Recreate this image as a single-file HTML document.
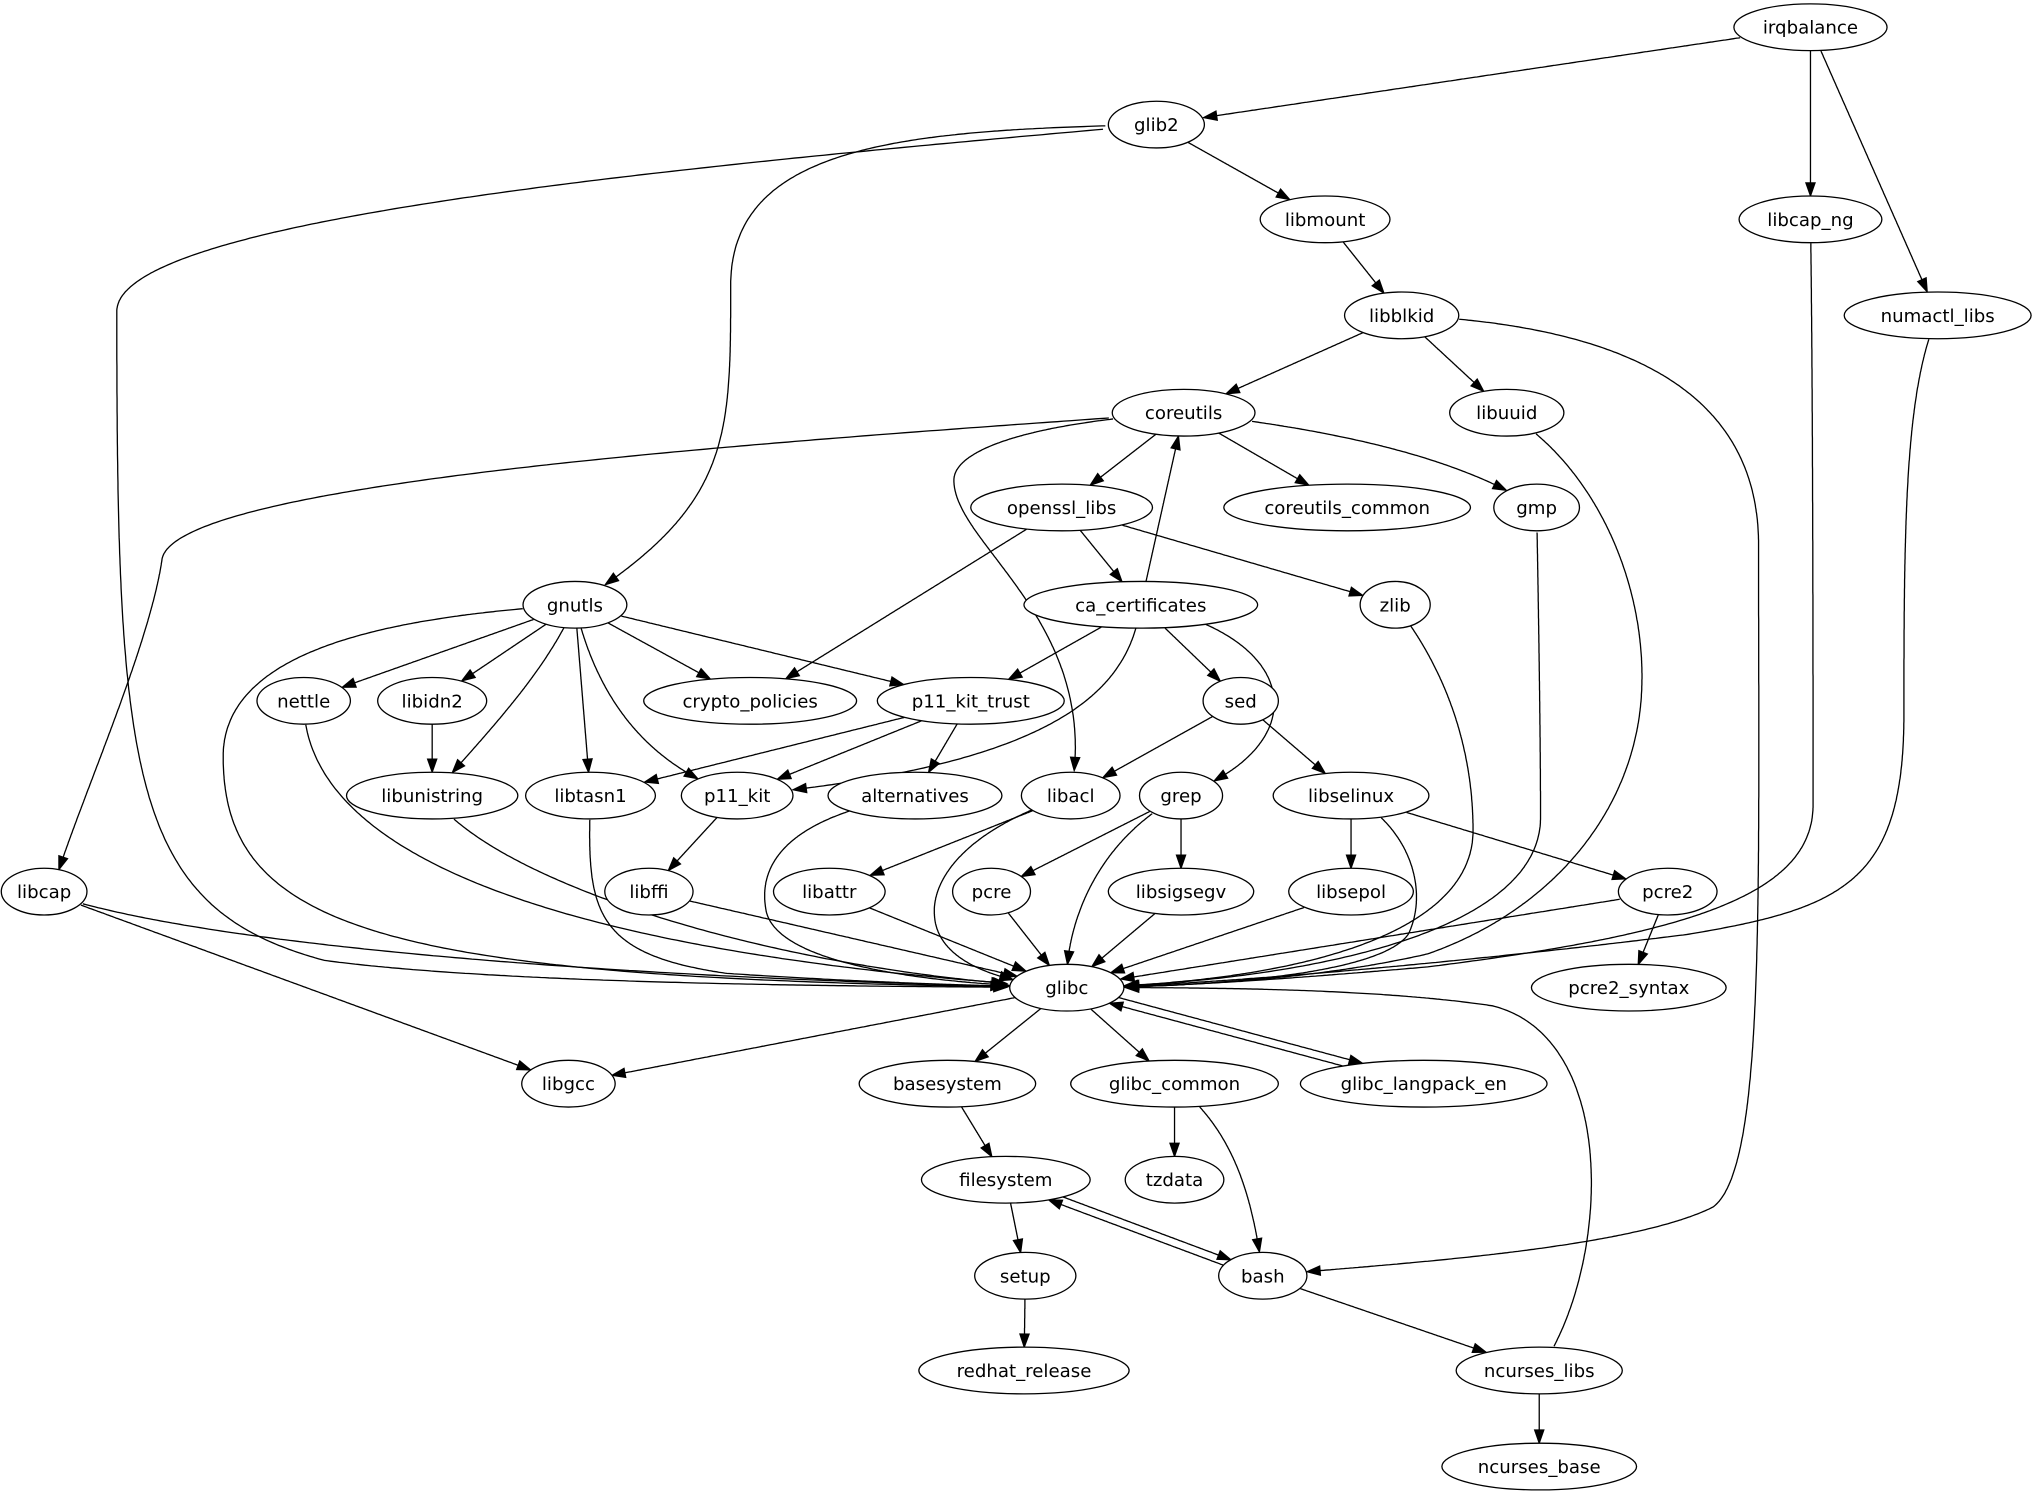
<!DOCTYPE html>
<html><head><meta charset="utf-8"><style>
html,body{margin:0;padding:0;background:#fff;}
svg{display:block;}
text{font-family:"DejaVu Sans","Liberation Sans",sans-serif;font-size:14px;}
</style></head><body>
<svg id="g" width="2035" height="1499" viewBox="0 0 1568 1155" xmlns="http://www.w3.org/2000/svg"></svg>
<script>
const N={
irqbalance:[1395,21,59],glib2:[891,96,37],libmount:[1021,169,50],libcap_ng:[1395,169,55],
libblkid:[1080,243,44],numactl_libs:[1493,243,72],coreutils:[912,318,55],libuuid:[1161,318,44],
openssl_libs:[818,391,70],coreutils_common:[1038,391,95],gmp:[1184,391,33],gnutls:[443,466,40],
ca_certificates:[879,466,90],zlib:[1075,466,27],nettle:[234,540,36],libidn2:[333,540,42],
crypto_policies:[578,540,82],p11_kit_trust:[748,540,72],sed:[956,540,29],libunistring:[333,613,66],
libtasn1:[455,613,50],p11_kit:[568,613,43],alternatives:[705,613,67],libacl:[825,613,38],
grep:[910,613,32],libselinux:[1041,613,60],libcap:[34,687,33],libffi:[500,687,34],
libattr:[639,687,43],pcre:[764,687,30],libsigsegv:[910,687,56],libsepol:[1041,687,48],
pcre2:[1285,687,38],glibc:[822,761,44],pcre2_syntax:[1255,761,75],libgcc:[438,835,36],
basesystem:[730,835,68],glibc_common:[905,835,80],glibc_langpack_en:[1097,835,95],
filesystem:[775,909,65],tzdata:[905,909,38],setup:[790,983,39],bash:[973,983,34],
redhat_release:[789,1056,81],ncurses_libs:[1186,1056,64],ncurses_base:[1186,1130,75]};
const RY=18;
const E=[
["irqbalance","glib2"],["irqbalance","libcap_ng"],["irqbalance","numactl_libs"],["glib2","libmount"],
["libmount","libblkid"],["libblkid","coreutils"],["libblkid","libuuid"],["coreutils","openssl_libs"],
["coreutils","coreutils_common"],["coreutils","gmp",[[1020,330,1120,350,1184,391]]],["openssl_libs","ca_certificates"],
["openssl_libs","zlib"],["openssl_libs","crypto_policies"],["ca_certificates","coreutils"],
["ca_certificates","p11_kit_trust"],["ca_certificates","sed"],["gnutls","nettle"],["gnutls","libidn2"],
["gnutls","libtasn1"],["gnutls","crypto_policies"],["gnutls","p11_kit_trust"],["libidn2","libunistring"],
["p11_kit_trust","libtasn1"],["p11_kit_trust","p11_kit"],["p11_kit_trust","alternatives"],
["sed","libacl"],["sed","libselinux"],["p11_kit","libffi"],["libacl","libattr"],["grep","pcre"],
["grep","libsigsegv"],["libselinux","libsepol"],["libselinux","pcre2"],["libffi","glibc"],
["libattr","glibc"],["pcre","glibc"],["libsigsegv","glibc"],["libsepol","glibc"],["pcre2","glibc"],
["pcre2","pcre2_syntax"],["libcap","libgcc"],["glibc","libgcc"],["glibc","basesystem"],
["glibc","glibc_common"],["glibc_common","tzdata"],["basesystem","filesystem"],["filesystem","setup"],
["setup","redhat_release"],["bash","ncurses_libs"],["ncurses_libs","ncurses_base"],
["glibc","glibc_langpack_en",null,-3],["glibc_langpack_en","glibc",null,-3],
["filesystem","bash",null,-3],["bash","filesystem",null,-3],
["glib2","glibc",[[500,130,90,170,90,240],[90,600,100,700,250,740],[400,760,700,760,822,761]]],
["glib2","gnutls",[[700,100,563,110,563,220],[563,340,563,390,443,466]]],
["coreutils","libcap",[[600,340,140,370,125,430],[115,500,60,620,40,687]]],
["coreutils","libacl",[[800,325,735,345,735,370],[735,420,850,480,825,613]]],
["ca_certificates","p11_kit",[[870,530,820,590,568,613]]],
["ca_certificates","grep",[[1005,490,1015,575,910,613]]],
["gnutls","glibc",[[300,475,175,500,172,580],[170,720,300,755,822,761]]],
["gnutls","p11_kit",[[460,540,500,590,568,613]]],
["gnutls","libunistring",[[420,520,370,570,333,613]]],
["nettle","glibc",[[234,680,500,740,822,761]]],
["libunistring","glibc",[[380,680,600,750,822,761]]],
["libtasn1","glibc",[[452,700,455,735,560,750],[680,758,780,760,822,761]]],
["alternatives","glibc",[[600,630,585,670,590,700],[595,740,700,758,822,761]]],
["libacl","glibc",[[740,640,718,680,720,705],[722,745,780,758,822,761]]],
["grep","glibc",[[840,650,820,720,822,761]]],
["libselinux","glibc",[[1090,640,1100,690,1085,720],[1060,755,900,761,822,761]]],
["zlib","glibc",[[1110,510,1135,570,1135,640],[1135,720,1000,758,822,761]]],
["gmp","glibc",[[1186,500,1187,580,1187,630],[1187,720,1000,758,822,761]]],
["libuuid","glibc",[[1230,360,1268,450,1265,530],[1262,620,1200,700,1100,735],[1000,758,880,761,822,761]]],
["libcap_ng","glibc",[[1397,300,1397,550,1397,620],[1397,690,1300,720,1100,745],[950,758,880,761,822,761]]],
["numactl_libs","glibc",[[1468,300,1467,400,1467,550],[1467,680,1420,700,1300,720],[1100,745,900,761,822,761]]],
["libblkid","bash",[[1250,250,1355,300,1355,420],[1355,700,1360,900,1320,930],[1250,965,1050,975,973,983]]],
["ncurses_libs","glibc",[[1240,980,1250,800,1150,775],[1050,760,900,761,822,761]]],
["glibc_common","bash",[[950,870,965,920,973,983]]],
["libcap","glibc",[[150,730,500,755,822,761]]]
];
const svg=document.getElementById('g');let out='';
function inside(n,p){const[c,d,r]=N[n];const dx=(p[0]-c)/(r),dy=(p[1]-d)/RY;return dx*dx+dy*dy<1;}
for(const e of E){
 const [a,b,segs,off]=e;let pts=[];
 let s=[N[a][0],N[a][1]];
 if(!segs){const t=[N[b][0],N[b][1]];
  for(let i=0;i<=400;i++)pts.push([s[0]+(t[0]-s[0])*i/400,s[1]+(t[1]-s[1])*i/400]);}
 else{let p0=s;for(const g of segs){const c1=[g[0],g[1]],c2=[g[2],g[3]],p3=[g[4],g[5]];
  for(let i=0;i<=200;i++){const t=i/200,u=1-t;pts.push([u*u*u*p0[0]+3*u*u*t*c1[0]+3*u*t*t*c2[0]+t*t*t*p3[0],u*u*u*p0[1]+3*u*u*t*c1[1]+3*u*t*t*c2[1]+t*t*t*p3[1]]);}p0=p3;}}
 if(off){const dx=N[b][0]-N[a][0],dy=N[b][1]-N[a][1],L=Math.hypot(dx,dy);const nx=-dy/L*off,ny=dx/L*off;pts=pts.map(p=>[p[0]+nx,p[1]+ny]);}
 let i0=0;while(i0<pts.length-1&&inside(a,pts[i0]))i0++;
 let i1=pts.length-1;while(i1>0&&inside(b,pts[i1]))i1--;
 pts=pts.slice(i0,i1+1);if(pts.length<2)continue;
 const tip=pts[pts.length-1];
 let acc=0,k=pts.length-1;while(k>0){const d=Math.hypot(pts[k][0]-pts[k-1][0],pts[k][1]-pts[k-1][1]);if(acc+d>=10)break;acc+=d;k--;}
 const q=pts[Math.max(k-1,0)];let dx=tip[0]-q[0],dy=tip[1]-q[1];const L=Math.hypot(dx,dy)||1;dx/=L;dy/=L;
 const base=[tip[0]-dx*10,tip[1]-dy*10];
 const line=pts.slice(0,Math.max(k,1)).concat([base]);
 out+='<polyline fill="none" stroke="#000" stroke-width="1" points="'+line.map(p=>p[0].toFixed(1)+','+p[1].toFixed(1)).join(' ')+'"/>';
 out+='<polygon fill="#000" stroke="#000" points="'+tip[0].toFixed(1)+','+tip[1].toFixed(1)+' '+(base[0]-dy*3.5).toFixed(1)+','+(base[1]+dx*3.5).toFixed(1)+' '+(base[0]+dy*3.5).toFixed(1)+','+(base[1]-dx*3.5).toFixed(1)+'"/>';
}
for(const n in N){const[c,d,r]=N[n];
 out+='<ellipse cx="'+c+'" cy="'+d+'" rx="'+r+'" ry="'+RY+'" fill="#fff" stroke="#000"/>';
 out+='<text x="'+c+'" y="'+(d+5)+'" text-anchor="middle">'+n+'</text>';}
svg.innerHTML=out;
</script>
</body></html>
